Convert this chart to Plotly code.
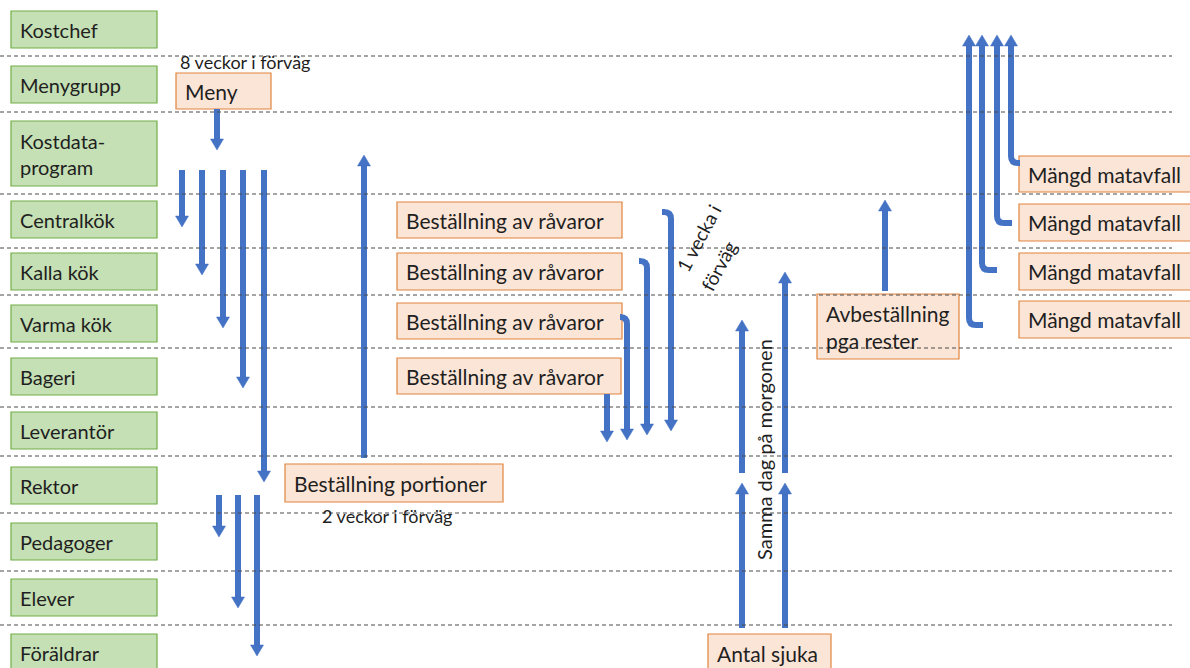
import plotly.graph_objects as go

# ---------------- data ----------------
lane_labels = ["Kostchef", "Menygrupp", "Kostdata-<br>program", "Centralkök", "Kalla kök",
               "Varma kök", "Bageri", "Leverantör", "Rektor", "Pedagoger", "Elever", "Föräldrar"]
lane_top = [11, 66, 121, 201, 253, 305, 358, 412, 467, 523, 579, 634]
lane_bottom = [48, 103, 186, 238, 290, 342, 395, 449, 504, 560, 616, 674]
divider_y = [56, 112, 194, 248, 295, 348, 407, 456, 513, 571, 625]

# orange process boxes: label, x0, x1, y0, y1
box_labels = ["Meny", "Beställning av råvaror", "Beställning av råvaror", "Beställning av råvaror",
              "Beställning av råvaror", "Beställning portioner", "Avbeställning<br>pga rester",
              "Antal sjuka", "Mängd matavfall", "Mängd matavfall", "Mängd matavfall", "Mängd matavfall"]
box_x0 = [176, 397, 397, 397, 397, 285, 817, 708, 1019, 1019, 1019, 1019]
box_x1 = [271, 622, 622, 622, 621, 503, 959, 831, 1192, 1192, 1192, 1192]
box_y0 = [73, 202, 253, 303, 358, 464, 294, 634, 156, 204, 253, 301]
box_y1 = [109, 238, 290, 339, 394, 502, 359, 674, 192, 241, 290, 338]

# straight arrows: x, from y, to y (tip)
arrow_x = [217, 182, 202, 223, 243, 264, 364, 219, 238, 257, 607, 742, 742, 785, 785, 885]
arrow_from = [109, 170, 170, 170, 170, 170, 458, 495, 495, 495, 394, 628, 473, 628, 473, 291]
arrow_to = [150, 227, 275, 328, 388, 482, 155, 537, 608, 656, 442, 483, 320, 483, 272, 200]

# bent arrows: start x, start y, vertical x, tip y
bent_x0 = [622, 639, 662, 983, 997, 1012, 1020]
bent_y0 = [317, 261, 212, 325, 270, 223, 163]
bent_xc = [627, 647, 671, 969, 982, 997, 1011]
bent_tip = [440, 435, 431, 35, 35, 35, 35]

# free notes: text, x, y, angle
note_text = ["8 veckor i förväg", "2 veckor i förväg", "1 vecka i", "förväg", "Samma dag på morgonen"]
note_x = [245, 387, 698, 718, 764]
note_y = [62, 516, 238, 266, 450]
note_angle = [0, 0, -62, -62, -90]
note_size = [18, 18, 19, 19, 20]

# ---------------- styles ----------------
FONT = "Lato, Carlito, 'Open Sans', sans-serif"
BLUE = "#4472C4"
GREEN_FILL = "#C5E0B4"
GREEN_LINE = "#70AD47"
ORANGE_FILL = "#FBE5D6"
ORANGE_LINE = "#E0843E"
TXT = "#1f1f1f"
LANE_FONT = 20
BOX_FONT = 21
SHAFT = 6
HEAD_HALF = 6.5
HEAD_LEN = 11
R = 7

fig = go.Figure()
shapes = []
annotations = []

# lane boxes
for lab, t, b in zip(lane_labels, lane_top, lane_bottom):
    shapes.append(dict(type="rect", xref="x", yref="y", x0=11, x1=157, y0=t, y1=b,
                       fillcolor=GREEN_FILL, line=dict(color=GREEN_LINE, width=1.2), layer="below"))
    yc = (t + b) / 2 if b < 668 else 653
    annotations.append(dict(x=18, y=yc, xref="x", yref="y",
                            text=lab, showarrow=False, xanchor="left", yanchor="middle", align="left",
                            font=dict(family=FONT, size=LANE_FONT, color=TXT)))

# process boxes
for lab, x0, x1, y0, y1 in zip(box_labels, box_x0, box_x1, box_y0, box_y1):
    shapes.append(dict(type="rect", xref="x", yref="y", x0=x0, x1=x1, y0=y0, y1=y1,
                       fillcolor=ORANGE_FILL, line=dict(color=ORANGE_LINE, width=1.2), layer="below"))
    yc = (y0 + y1) / 2 if y1 < 668 else 653
    annotations.append(dict(x=x0 + 7, y=yc, xref="x", yref="y", text=lab, showarrow=False,
                            xanchor="left", yanchor="middle", align="left",
                            font=dict(family=FONT, size=BOX_FONT, color=TXT)))


def head(xt, yt, sy):
    # sy = +1 pointing down, -1 pointing up
    yb = yt - sy * HEAD_LEN
    return dict(type="path", xref="x", yref="y",
                path=f"M {xt - HEAD_HALF},{yb} L {xt + HEAD_HALF},{yb} L {xt},{yt} Z",
                fillcolor=BLUE, line=dict(color=BLUE, width=0.5), layer="below")


for x, y0, y1 in zip(arrow_x, arrow_from, arrow_to):
    sy = 1 if y1 > y0 else -1
    shapes.append(dict(type="line", xref="x", yref="y", x0=x, x1=x, y0=y0, y1=y1 - sy * (HEAD_LEN - 1),
                       line=dict(color=BLUE, width=SHAFT), layer="below"))
    shapes.append(head(x, y1, sy))

for x0, y0, xc, yt in zip(bent_x0, bent_y0, bent_xc, bent_tip):
    sx = 1 if xc > x0 else -1
    sy = 1 if yt > y0 else -1
    p = (f"M {x0},{y0} L {xc - sx * R},{y0} Q {xc},{y0} {xc},{y0 + sy * R} "
         f"L {xc},{yt - sy * (HEAD_LEN - 1)}")
    shapes.append(dict(type="path", xref="x", yref="y", path=p,
                       line=dict(color=BLUE, width=SHAFT), layer="below"))
    shapes.append(head(xc, yt, sy))

# dashed dividers (on top)
for y in divider_y:
    shapes.append(dict(type="line", xref="x", yref="y", x0=0, x1=1172, y0=y, y1=y,
                       line=dict(color="#4a4a4a", width=1, dash="4px,3px"), layer="above"))

for t, x, y, a, s in zip(note_text, note_x, note_y, note_angle, note_size):
    annotations.append(dict(x=x, y=y, xref="x", yref="y", text=t, showarrow=False, textangle=a,
                            xanchor="center", yanchor="middle", align="left",
                            font=dict(family=FONT, size=s, color=TXT)))

fig.update_layout(
    width=1190, height=668, margin=dict(l=0, r=0, t=0, b=0),
    paper_bgcolor="white", plot_bgcolor="white",
    xaxis=dict(range=[0, 1190], visible=False, fixedrange=True),
    yaxis=dict(range=[668, 0], visible=False, fixedrange=True),
    shapes=shapes, annotations=annotations, showlegend=False,
)
fig.write_html("out.html", config={"displayModeBar": False},
               post_script="document.body.style.margin='0';document.body.style.overflow='hidden';")
